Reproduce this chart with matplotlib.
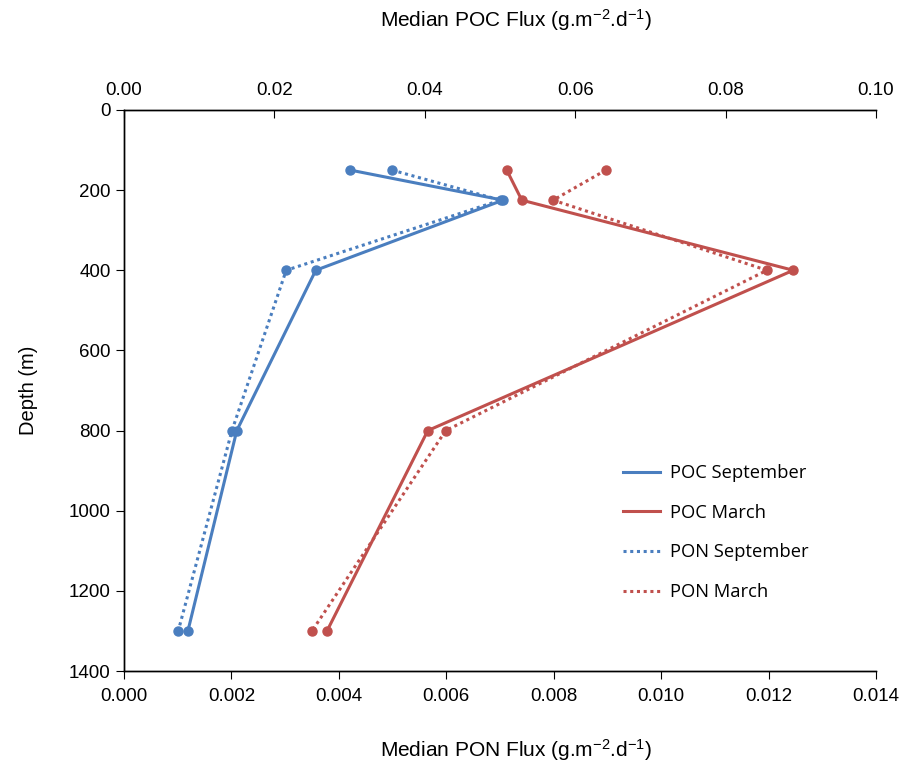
import matplotlib
matplotlib.use("Agg")
import matplotlib.pyplot as plt

depth = [150, 225, 400, 800, 1300]
poc_sep = [0.0301, 0.0504, 0.0255, 0.0150, 0.0085]
poc_mar = [0.0509, 0.0529, 0.0890, 0.0404, 0.0270]
pon_sep = [0.00499, 0.00701, 0.00302, 0.00201, 0.00101]
pon_mar = [0.00897, 0.00799, 0.01197, 0.00599, 0.00350]

blue = "#4a7ebf"
red = "#c0504d"

plt.rcParams['font.family'] = ['Liberation Sans', 'DejaVu Sans']
plt.rcParams['mathtext.fontset'] = 'custom'
plt.rcParams['mathtext.rm'] = 'Liberation Sans'
plt.rcParams['mathtext.it'] = 'Liberation Sans'
plt.rcParams['mathtext.bf'] = 'Liberation Sans:bold'
plt.rcParams['axes.unicode_minus'] = False

fig = plt.figure(figsize=(9.07, 7.66), dpi=100)
ax = fig.add_axes([0.1367, 0.1240, 0.8291, 0.7324])
ax2 = ax.twiny()

l3, = ax.plot(pon_sep, depth, color=blue, lw=2.2, ls=(0, (1, 1.2)), marker='o', ms=6.5, label='PON September')
l4, = ax.plot(pon_mar, depth, color=red, lw=2.2, ls=(0, (1, 1.2)), marker='o', ms=6.5, label='PON March')
l1, = ax2.plot(poc_sep, depth, color=blue, lw=2.2, marker='o', ms=6.5, label='POC September')
l2, = ax2.plot(poc_mar, depth, color=red, lw=2.2, marker='o', ms=6.5, label='POC March')

ax.set_xlim(0, 0.014)
ax2.set_xlim(0, 0.10)
ax.set_ylim(1400, 0)
ax.set_yticks(range(0, 1401, 200))
ax.set_xticks([0.002 * i for i in range(8)])
ax.set_xticklabels([f"{0.002*i:.3f}" for i in range(8)])
ax2.set_xticks([0.02 * i for i in range(6)])
ax2.set_xticklabels([f"{0.02*i:.2f}" for i in range(6)])

for a in (ax, ax2):
    a.spines['right'].set_visible(False)
    for s in a.spines.values():
        s.set_linewidth(1.0)
ax.tick_params(axis='x', direction='out', length=6, labelsize=13.5, pad=6)
ax.tick_params(axis='y', direction='out', length=6, labelsize=13.5)
ax2.tick_params(axis='x', direction='in', length=6, labelsize=13.5, pad=8)

ax.set_ylabel('Depth (m)', fontsize=14.5)
ax.yaxis.set_label_coords(-0.127, 0.5)
ax.yaxis.label.set_va('center')

ax.set_xlabel('Median PON Flux (g.m$^{-2}$.d$^{-1}$)', fontsize=15)
ax.xaxis.set_label_coords(0.521, -0.1408)
ax.xaxis.label.set_va('center')

ax2.set_xlabel('Median POC Flux (g.m$^{-2}$.d$^{-1}$)', fontsize=15)
ax2.xaxis.set_label_coords(0.521, 1.1604)
ax2.xaxis.label.set_va('center')

leg = ax2.legend(handles=[l1, l2, l3, l4], loc='upper left',
                 bbox_to_anchor=(0.687, 0.394), bbox_transform=fig.transFigure,
                 frameon=False, borderpad=0, borderaxespad=0,
                 handlelength=2.0, handletextpad=0.55, labelspacing=1.18,
                 prop={'family': ['Open Sans', 'DejaVu Sans'], 'size': 13.2})
for h in leg.legend_handles:
    h.set_marker('')

fig.savefig('out.png', dpi=100, facecolor='white')
